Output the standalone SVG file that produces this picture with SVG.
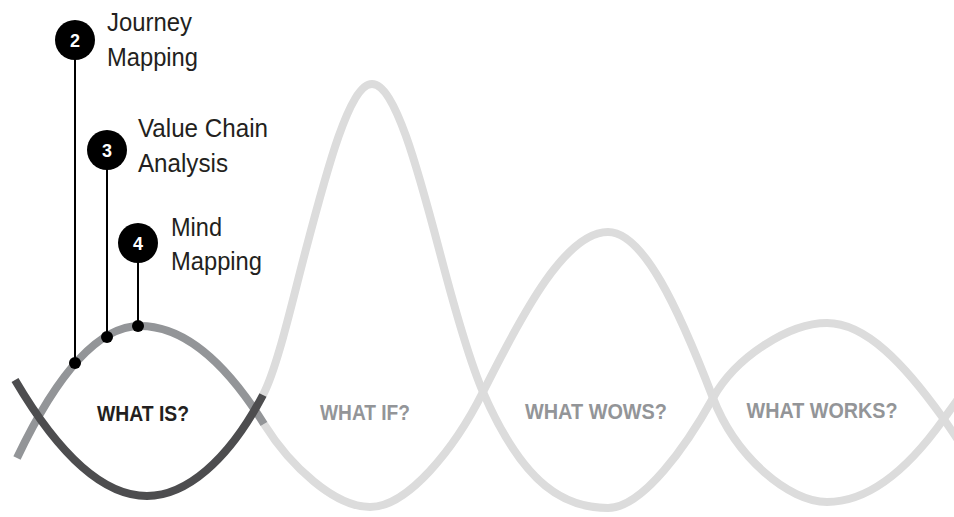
<svg xmlns="http://www.w3.org/2000/svg" width="954" height="517" viewBox="0 0 954 517">
<style>
.wave{fill:none;stroke-width:8;stroke-linecap:butt}
.light{stroke:#dcdcdc}
.mid{stroke:#939598}
.dark{stroke:#4d4d4f}
.lead{stroke:#000;stroke-width:2;fill:none}
.badge{fill:#000}
.num{font-family:"Liberation Sans",Arial,sans-serif;font-weight:bold;font-size:18px;fill:#fff;text-anchor:middle}
.lbl{font-family:"Liberation Sans",Arial,sans-serif;font-size:26px;fill:#231f20}
.phase{font-family:"Liberation Sans",Arial,sans-serif;font-weight:bold;font-size:22px;fill:#939598;text-anchor:middle}
</style>
<rect width="954" height="517" fill="#fff"/>
<g id="waves">
<path class="wave light" d="M263,395 C277,368.4 291,306.2 305,253 C327.3,168.1 349.7,84 372,84 C394.7,84 417.3,166.9 440,253 C454.3,307.5 468.7,359 483,392 C524.7,487.8 566.3,508 608,508 C643,508 686.75,445.25 713,398 C735.8,357 789,323 827,323 C865.7,323 904.3,363.9 943,418 C949.3,426.9 955.7,436.5 962,446"/>
<path class="wave light" d="M264,424 C290.5,466.4 334.7,507 370,507 C407.7,507 454.75,448.5 483,392 C524.7,308.7 566.3,232 608,232 C643,232 678,307 713,398 C735.8,457.3 789,502 827,502 C865.7,502 904.3,474.1 943,420 C949.3,411.1 955.7,402.5 962,393"/>
<path class="wave mid" d="M17,458 C58,371.9 99,326 140,326 C181.3,326 222.7,357.9 264,424"/>
<path class="wave dark" d="M15,380 C59,454.8 103,496 147,496 C185.7,496 228.2,461.1 263,395"/>
</g>
<g id="connectors">
<line class="lead" x1="75" y1="40" x2="75" y2="363"/>
<line class="lead" x1="107" y1="150" x2="107" y2="337"/>
<line class="lead" x1="138" y1="243" x2="138" y2="326"/>
<circle cx="75" cy="363" r="6" fill="#000"/>
<circle cx="107" cy="337" r="6" fill="#000"/>
<circle cx="138" cy="326" r="6" fill="#000"/>
</g>
<g id="step2">
<circle class="badge" cx="75" cy="40" r="20"/>
<text class="num" x="75" y="46.5">2</text>
<text class="lbl" x="107" y="31" textLength="85" lengthAdjust="spacingAndGlyphs">Journey</text>
<text class="lbl" x="107" y="66" textLength="91" lengthAdjust="spacingAndGlyphs">Mapping</text>
</g>
<g id="step3">
<circle class="badge" cx="107" cy="150" r="20"/>
<text class="num" x="107" y="156.5">3</text>
<text class="lbl" x="138" y="137" textLength="130" lengthAdjust="spacingAndGlyphs">Value Chain</text>
<text class="lbl" x="138" y="172" textLength="90" lengthAdjust="spacingAndGlyphs">Analysis</text>
</g>
<g id="step4">
<circle class="badge" cx="138" cy="243" r="20"/>
<text class="num" x="138" y="249.5">4</text>
<text class="lbl" x="171" y="236" textLength="51" lengthAdjust="spacingAndGlyphs">Mind</text>
<text class="lbl" x="171" y="270" textLength="91" lengthAdjust="spacingAndGlyphs">Mapping</text>
</g>
<g id="what-is"><text class="phase" x="143" y="421" textLength="92" lengthAdjust="spacingAndGlyphs" style="fill:#231f20">WHAT IS?</text></g>
<g id="what-if"><text class="phase" x="365" y="420" textLength="90" lengthAdjust="spacingAndGlyphs">WHAT IF?</text></g>
<g id="what-wows"><text class="phase" x="596" y="419" textLength="142" lengthAdjust="spacingAndGlyphs">WHAT WOWS?</text></g>
<g id="what-works"><text class="phase" x="822" y="418" textLength="151" lengthAdjust="spacingAndGlyphs">WHAT WORKS?</text></g>
</svg>
